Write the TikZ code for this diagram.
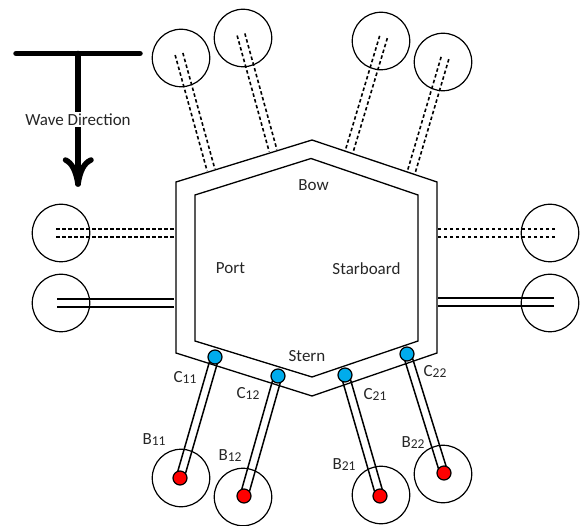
\documentclass[tikz,border=0pt]{standalone}
\usepackage{fontspec}
\setmainfont{Carlito}
\usetikzlibrary{calc}
\newcommand{\lab}[2]{#1\raisebox{-1pt}{\fontsize{13.5}{14}\selectfont #2}}
\definecolor{conncyan}{RGB}{0,172,236}
\tikzset{
  x=1pt,y=-1pt,
  ball/.style={circle,draw=black,line width=1.2pt,minimum size=57.5pt,inner sep=0pt,outer sep=0pt},
  conn/.style={circle,draw=black,line width=1.2pt,minimum size=14pt,inner sep=0pt,fill=#1},
  hull/.style={draw=black,line width=1.3pt,line join=miter},
  dashedleg/.style={draw=black,line width=1.6pt,dash pattern=on 3.5pt off 2.5pt},
  solidleg/.style={draw=black,line width=1.5pt},
  txt/.style={font=\fontsize{17}{19}\selectfont,text=black!85,inner sep=0pt},
  thick wave/.style={draw=black,line width=5.5pt,line cap=round,line join=round},
}
\newcommand{\legpair}[4]{% style, from, to, half spacing
  \draw[#1] ($(#2)!#4!90:(#3)$) -- ($(#3)!#4!-90:(#2)$);
  \draw[#1] ($(#2)!#4!-90:(#3)$) -- ($(#3)!#4!90:(#2)$);
}
\begin{document}
\begin{tikzpicture}
\useasboundingbox (0,0) rectangle (581,526);
% hull
\draw[hull] (176,182) -- (312,140) -- (437,182) -- (437,353) -- (312,396) -- (176,353) -- cycle;
\draw[hull] (195,195) -- (311,158.5) -- (418,195) -- (418,341) -- (312,377) -- (195,341) -- cycle;
% balls
\node[ball] (tl1) at (181,58) {};
\node[ball] (tl2) at (243,38) {};
\node[ball] (tr1) at (381,41) {};
\node[ball] (tr2) at (443,62) {};
\node[ball] (l1) at (61,233) {};
\node[ball] (l2) at (61,303) {};
\node[ball] (r1) at (550,233) {};
\node[ball] (r2) at (550,303) {};
\node[ball] (bc1) at (181,478) {};
\node[ball] (bc2) at (243,497) {};
\node[ball] (bc3) at (381,495) {};
\node[ball] (bc4) at (443,474) {};
% free ends
\coordinate (atl1) at (179,54);
\coordinate (htl1) at (211,170);
\coordinate (atl2) at (241,34.5);
\coordinate (htl2) at (273,150.5);
\coordinate (atr1) at (383.5,37);
\coordinate (htr1) at (349,152);
\coordinate (atr2) at (445,58);
\coordinate (htr2) at (411,173);
\coordinate (al1) at (56,233);
\coordinate (hl1) at (175,233);
\coordinate (al2) at (57,303);
\coordinate (hl2) at (174,303);
\coordinate (ar1) at (555,233);
\coordinate (hr1) at (438,233);
\coordinate (ar2) at (554,302);
\coordinate (hr2) at (438,302);
\legpair{dashedleg}{atl1}{htl1}{4pt}
\legpair{dashedleg}{atl2}{htl2}{4pt}
\legpair{dashedleg}{atr1}{htr1}{4pt}
\legpair{dashedleg}{atr2}{htr2}{4pt}
\legpair{dashedleg}{al1}{hl1}{4pt}
\legpair{dashedleg}{ar1}{hr1}{4pt}
\legpair{solidleg}{al2}{hl2}{4pt}
\legpair{solidleg}{ar2}{hr2}{4pt}
% bottom legs
\coordinate (c1) at (215,357);
\coordinate (c2) at (278,376);
\coordinate (c3) at (345,375);
\coordinate (c4) at (407,354);
\coordinate (b1) at (180,478);
\coordinate (b2) at (244,496);
\coordinate (b3) at (380,496);
\coordinate (b4) at (444,473);
\legpair{solidleg}{c1}{b1}{4pt}
\legpair{solidleg}{c2}{b2}{4pt}
\legpair{solidleg}{c3}{b3}{4pt}
\legpair{solidleg}{c4}{b4}{4pt}
\node[conn=conncyan] (nc1) at (c1) {};
\node[conn=conncyan] (nc2) at (c2) {};
\node[conn=conncyan] (nc3) at (c3) {};
\node[conn=conncyan] (nc4) at (c4) {};
\node[conn=red] (nb1) at (b1) {};
\node[conn=red] (nb2) at (b2) {};
\node[conn=red] (nb3) at (b3) {};
\node[conn=red] (nb4) at (b4) {};
% wave
\coordinate (wl) at (16,53.5);
\coordinate (wr) at (140,53.5);
\coordinate (wt) at (78,53.5);
\coordinate (wb) at (78,184);
\draw[thick wave] (wl) -- (wr);
\draw[thick wave] (wt) -- (wb);
\draw[thick wave] (65.5,160) .. controls (72,163) and (76,171) .. (wb) .. controls (80,171) and (84,163) .. (91,160);
\node[txt,fill=white,inner ysep=2pt] (wave) at (78,119.5) {Wave Direction};
% labels
\node[txt] (bow) at (313.5,185) {Bow};
\node[txt] (port) at (230.5,268.5) {Port};
\node[txt] (star) at (366.5,268.5) {Starboard};
\node[txt] (stern) at (307,356) {Stern};
\node[txt] (lc11) at (185,377) {\lab{C}{11}};
\node[txt] (lc12) at (248,393.5) {\lab{C}{12}};
\node[txt] (lc21) at (375,394) {\lab{C}{21}};
\node[txt] (lc22) at (435,371) {\lab{C}{22}};
\node[txt] (lb11) at (154,440) {\lab{B}{11}};
\node[txt] (lb12) at (230,456) {\lab{B}{12}};
\node[txt] (lb21) at (344,464.5) {\lab{B}{21}};
\node[txt] (lb22) at (413,443) {\lab{B}{22}};
\end{tikzpicture}
\end{document}
